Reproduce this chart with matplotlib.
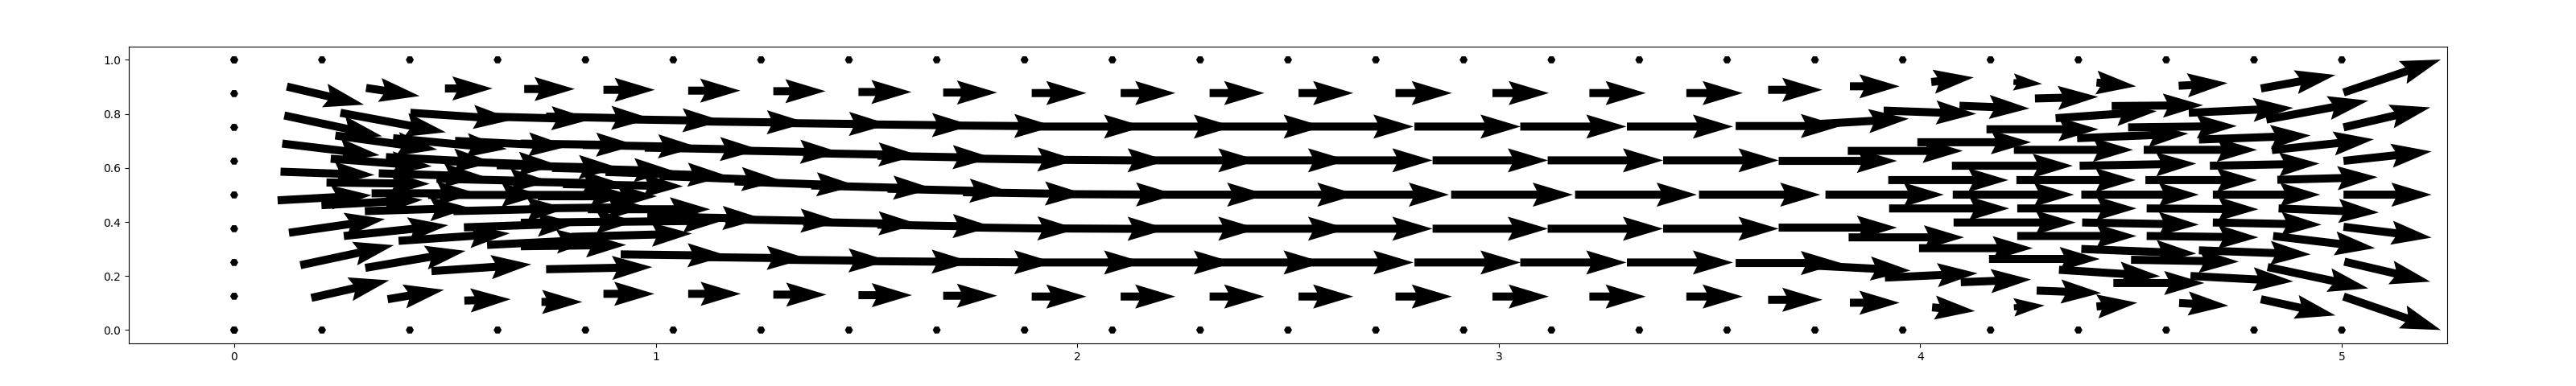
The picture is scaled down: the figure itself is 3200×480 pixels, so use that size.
import numpy as np
import matplotlib
matplotlib.use("Agg")
import matplotlib.pyplot as plt

# ---- wall nodes (zero velocity) ----
wall_top_x = [k * 5 / 24 for k in range(25)]
wall_left_y = [k / 8 for k in range(9)]

# ---- top stream (y ~ 0.88) ----
top_x = [0.125, 0.313, 0.500, 0.688, 0.876, 1.077, 1.279, 1.481, 1.682, 1.892, 2.103, 2.314, 2.525,
         2.755, 2.985, 3.215, 3.445, 3.639, 3.833, 4.026, 4.221, 4.418, 4.613, 4.808, 5.004]
top_y = [0.901, 0.896, 0.894, 0.892, 0.889, 0.886, 0.884, 0.881, 0.879, 0.877, 0.877, 0.877, 0.877,
         0.877, 0.877, 0.877, 0.877, 0.889, 0.902, 0.918, 0.918, 0.916, 0.904, 0.894, 0.879]
top_u = [0.183, 0.127, 0.113, 0.120, 0.122, 0.124, 0.124, 0.126, 0.128, 0.130, 0.130, 0.130, 0.130,
         0.134, 0.134, 0.134, 0.134, 0.129, 0.118, 0.101, 0.068, 0.094, 0.116, 0.177, 0.231]
top_v = [-0.067, -0.030, 0, 0, 0, 0, 0, 0, 0, 0, 0, 0, 0,
         0, 0, 0, 0, 0, 0, 0.017, -0.007, -0.014, 0.010, 0.050, 0.122]

# ---- bottom stream (y ~ 0.12) ----
bot_x = [0.183, 0.364, 0.546, 0.729, 0.876, 1.077, 1.279, 1.481, 1.682, 1.892, 2.103, 2.314, 2.525,
         2.755, 2.985, 3.215, 3.445, 3.639, 3.833, 4.028, 4.222, 4.418, 4.614, 4.808, 5.004]
bot_y = [0.119, 0.114, 0.109, 0.104, 0.134, 0.134, 0.131, 0.129, 0.127, 0.124, 0.124, 0.124, 0.124,
         0.124, 0.124, 0.124, 0.124, 0.112, 0.101, 0.084, 0.084, 0.087, 0.100, 0.114, 0.124]
bot_u = [0.185, 0.134, 0.110, 0.097, 0.121, 0.125, 0.126, 0.127, 0.128, 0.130, 0.130, 0.130, 0.130,
         0.134, 0.134, 0.134, 0.134, 0.129, 0.118, 0.102, 0.073, 0.097, 0.117, 0.177, 0.231]
bot_v = [0.065, 0.035, 0.005, 0, 0, 0, 0, 0, 0, 0, 0, 0, 0,
         0, 0, 0, 0, 0, 0, -0.014, 0.007, 0.014, -0.010, -0.060, -0.124]

# ---- stream y ~ 0.75 ----
r2_x = [0.119, 0.252, 0.418, 0.603, 0.740, 0.909, 1.109, 1.304, 1.501, 1.696, 1.909, 2.122, 2.335,
        2.548, 2.800, 3.051, 3.304, 3.562]
r2_y = [0.794, 0.804, 0.804, 0.790, 0.790, 0.780, 0.772, 0.766, 0.761, 0.757, 0.753, 0.753, 0.753,
        0.753, 0.753, 0.753, 0.753, 0.755]
r2_u = [0.232, 0.250, 0.245, 0.245, 0.250, 0.250, 0.250, 0.250, 0.250, 0.250, 0.250, 0.250, 0.250,
        0.250, 0.252, 0.252, 0.252, 0.250]
r2_v = [-0.077, -0.072, -0.025, -0.010, -0.008, -0.006, -0.005, -0.005, -0.004, -0.003, 0, 0, 0,
        0, 0, 0, 0, 0]

# ---- stream y ~ 0.25 ----
r6_x = [0.157, 0.311, 0.468, 0.740, 0.917, 1.109, 1.303, 1.500, 1.696, 1.909, 2.122, 2.335, 2.548,
        2.800, 3.051, 3.304, 3.562]
r6_y = [0.240, 0.230, 0.218, 0.225, 0.280, 0.270, 0.260, 0.255, 0.252, 0.250, 0.250, 0.250, 0.250,
        0.250, 0.250, 0.250, 0.248]
r6_u = [0.222, 0.238, 0.237, 0.252, 0.254, 0.250, 0.250, 0.250, 0.250, 0.250, 0.250, 0.250, 0.250,
        0.252, 0.252, 0.252, 0.250]
r6_v = [0.074, 0.063, 0.025, 0.008, -0.005, -0.005, -0.004, -0.003, -0.002, 0, 0, 0, 0,
        0, 0, 0, 0]

# ---- stream y ~ 0.625 ----
r3_x = [0.114, 0.240, 0.377, 0.524, 0.680, 0.827, 0.974, 1.164, 1.350, 1.526, 1.727, 1.941, 2.156,
        2.369, 2.569, 2.843, 3.116, 3.390, 3.664]
r3_y = [0.690, 0.720, 0.710, 0.700, 0.690, 0.685, 0.675, 0.665, 0.655, 0.645, 0.635, 0.630, 0.628,
        0.628, 0.628, 0.628, 0.628, 0.628, 0.626]
r3_u = [0.231, 0.242, 0.270, 0.270, 0.274, 0.274, 0.274, 0.274, 0.274, 0.274, 0.274, 0.274, 0.274,
        0.274, 0.274, 0.274, 0.274, 0.274, 0.281]
r3_v = [-0.043, -0.052, -0.040, -0.020, -0.006, -0.008, -0.008, -0.008, -0.008, -0.008, -0.006, -0.003, 0,
        0, 0, 0, 0, 0, 0]

# ---- stream y ~ 0.5 ----
r4_x = [0.110, 0.229, 0.360, 0.500, 0.623, 0.754, 0.881, 1.009, 1.187, 1.369, 1.550, 1.729, 1.945,
        2.161, 2.375, 2.593, 2.887, 3.181, 3.475, 3.775, 4.077, 4.382, 4.694, 5.004]
r4_y = [0.586, 0.634, 0.640, 0.625, 0.610, 0.600, 0.585, 0.570, 0.550, 0.535, 0.523, 0.510, 0.503,
        0.501, 0.501, 0.501, 0.501, 0.501, 0.501, 0.501, 0.501, 0.501, 0.501, 0.501]
r4_u = [0.223, 0.240, 0.256, 0.270, 0.290, 0.290, 0.290, 0.290, 0.290, 0.290, 0.290, 0.290, 0.290,
        0.290, 0.290, 0.289, 0.289, 0.289, 0.288, 0.281, 0.288, 0.279, 0.255, 0.209]
r4_v = [-0.012, -0.028, -0.020, -0.015, -0.010, -0.012, -0.015, -0.017, -0.016, -0.012, -0.011, -0.007, -0.002,
        0, 0, 0, 0, 0, 0, 0, 0, 0, 0, 0]

# ---- stream y ~ 0.375 ----
r5_x = [0.980, 1.165, 1.350, 1.526, 1.727, 1.941, 2.156, 2.369, 2.569, 2.843, 3.116, 3.390, 3.664]
r5_y = [0.420, 0.410, 0.400, 0.390, 0.380, 0.376, 0.375, 0.375, 0.375, 0.375, 0.375, 0.375, 0.379]
r5_u = [0.274, 0.274, 0.274, 0.274, 0.274, 0.274, 0.274, 0.274, 0.274, 0.274, 0.274, 0.274, 0.281]
r5_v = [-0.008, -0.008, -0.008, -0.008, -0.006, -0.002, 0, 0, 0, 0, 0, 0, 0]

# ---- crowded inlet region ----
inl_x = [0.103, 0.219, 0.207, 0.343, 0.326, 0.310, 0.480, 0.460, 0.520, 0.545, 0.600, 0.640,
         0.660, 0.700, 0.680, 0.680, 0.780, 0.720, 0.839, 0.800, 0.130, 0.260, 0.390, 0.880]
inl_y = [0.480, 0.546, 0.462, 0.580, 0.506, 0.440, 0.560, 0.500, 0.440, 0.380, 0.315, 0.550,
         0.500, 0.450, 0.397, 0.310, 0.540, 0.495, 0.447, 0.345, 0.360, 0.348, 0.330, 0.400]
inl_u = [0.223, 0.245, 0.240, 0.250, 0.250, 0.250, 0.270, 0.270, 0.270, 0.270, 0.260, 0.280,
         0.280, 0.280, 0.274, 0.250, 0.285, 0.283, 0.290, 0.286, 0.228, 0.248, 0.264, 0.280]
inl_v = [0.019, -0.005, 0.020, -0.012, 0, 0.012, -0.010, 0, 0.010, 0.015, 0.020, -0.008,
         0, 0.005, 0.005, 0.005, -0.008, 0, 0, 0.012, 0.051, 0.040, 0.028, 0.005]

# ---- crowded outlet region ----
out_x = [3.924, 4.228, 4.534, 4.847, 3.926, 4.230, 4.537, 4.850,
         4.075, 4.378, 4.687, 5.004, 4.079, 4.384, 4.694, 5.004,
         3.828, 4.222, 4.530, 4.834, 3.993, 4.372, 4.661, 4.157, 4.493,
         3.830, 4.230, 4.537, 4.837, 3.997, 4.382, 4.661, 4.163, 4.500, 5.006,
         3.730, 3.913, 4.093, 4.272, 4.321, 4.454, 4.637, 4.821, 5.004,
         3.730, 3.916, 4.096, 4.276, 4.329, 4.458, 4.641, 4.824]
out_y = [0.555, 0.555, 0.555, 0.556, 0.450, 0.450, 0.450, 0.450,
         0.608, 0.608, 0.608, 0.626, 0.398, 0.398, 0.398, 0.382,
         0.663, 0.667, 0.667, 0.666, 0.695, 0.710, 0.705, 0.743, 0.750,
         0.343, 0.348, 0.348, 0.348, 0.303, 0.300, 0.295, 0.263, 0.260, 0.253,
         0.760, 0.812, 0.830, 0.857, 0.784, 0.829, 0.804, 0.779, 0.750,
         0.240, 0.194, 0.177, 0.146, 0.223, 0.174, 0.200, 0.233]
out_u = [0.285, 0.283, 0.265, 0.238, 0.285, 0.283, 0.265, 0.238,
         0.287, 0.277, 0.260, 0.209, 0.290, 0.277, 0.258, 0.209,
         0.273, 0.283, 0.269, 0.242, 0.270, 0.264, 0.265, 0.266, 0.258,
         0.274, 0.283, 0.265, 0.242, 0.270, 0.273, 0.265, 0.263, 0.256, 0.204,
         0.243, 0.220, 0.166, 0.150, 0.240, 0.217, 0.248, 0.242, 0.206,
         0.247, 0.220, 0.167, 0.153, 0.240, 0.216, 0.244, 0.239]
out_v = [0, 0, 0, 0.010, 0, 0, -0.003, -0.015,
         0, 0.008, 0.008, 0.035, 0, -0.008, -0.008, -0.040,
         0, 0, 0, 0.040, 0, 0.017, 0.015, 0, 0.005,
         0, 0, -0.005, -0.045, 0, -0.017, -0.015, 0, -0.007, -0.074,
         0.022, -0.012, -0.010, 0.006, 0.026, 0.003, 0.018, 0.070, 0.074,
         -0.020, 0.016, 0.010, -0.009, -0.024, 0, -0.020, -0.079]

# ---- assemble ----
X = (wall_top_x + wall_top_x + [0.0] * len(wall_left_y)
     + top_x + bot_x + r2_x + r6_x + r3_x + r4_x + r5_x + inl_x + out_x)
Y = ([1.0] * len(wall_top_x) + [0.0] * len(wall_top_x) + wall_left_y
     + top_y + bot_y + r2_y + r6_y + r3_y + r4_y + r5_y + inl_y + out_y)
nwall = 2 * len(wall_top_x) + len(wall_left_y)
U = ([0.0] * nwall + top_u + bot_u + r2_u + r6_u + r3_u + r4_u + r5_u + inl_u + out_u)
V = ([0.0] * nwall + top_v + bot_v + r2_v + r6_v + r3_v + r4_v + r5_v + inl_v + out_v)

fig = plt.figure(figsize=(32, 4.8), dpi=100)
ax = fig.add_axes([0.05, 0.11, 0.90, 0.77])
ax.quiver(np.array(X), np.array(Y), np.array(U), np.array(V),
          angles='xy', scale_units='xy', scale=1,
          units='dots', width=10, color='black')
ax.set_xlim(-0.25, 5.25)
ax.set_ylim(-0.05, 1.05)
ax.set_xticks([0, 1, 2, 3, 4, 5])
ax.set_yticks([0.0, 0.2, 0.4, 0.6, 0.8, 1.0])
fig.savefig("out.png", dpi=100)
